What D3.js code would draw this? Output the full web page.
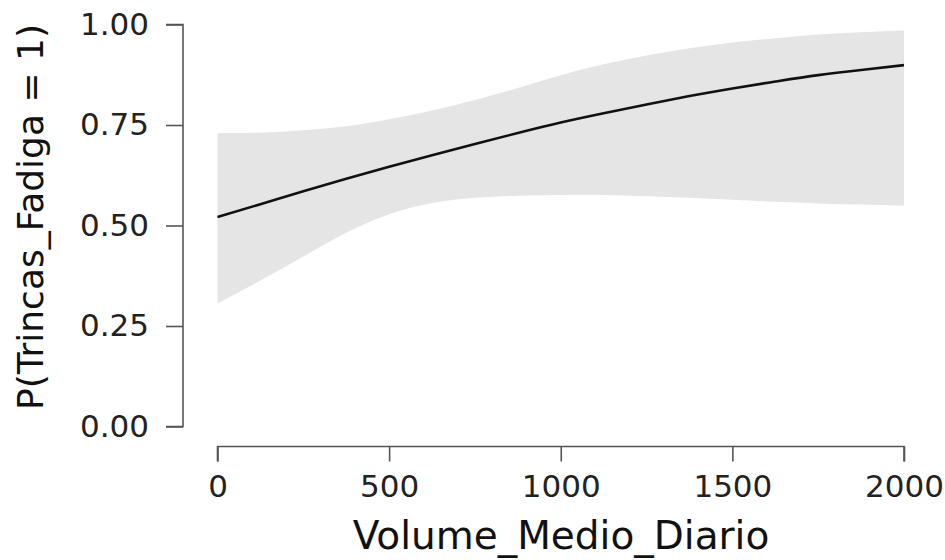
<!DOCTYPE html>
<html>
<head>
<meta charset="utf-8">
<script src="https://cdn.jsdelivr.net/npm/d3@7"></script>
<style>
  body { margin: 0; background: #fff; overflow: hidden; }
  svg { display: block; }
  .axis text { font-family: "DejaVu Sans", sans-serif; font-size: 31px; fill: #222; }
</style>
</head>
<body>
<div id="chart-container"></div>
<script>
// values
var volume = [0, 125, 250, 375, 500, 625, 750, 875, 1000, 1125, 1250, 1375, 1500, 1625, 1750, 1875, 2000];
var prob   = [0.521, 0.553, 0.585, 0.616, 0.646, 0.675, 0.703, 0.730, 0.756, 0.779, 0.801, 0.822, 0.841, 0.858, 0.874, 0.887, 0.899];
var upper  = [0.730, 0.731, 0.737, 0.747, 0.764, 0.786, 0.812, 0.842, 0.874, 0.901, 0.923, 0.941, 0.955, 0.966, 0.975, 0.981, 0.985];
var lower  = [0.306, 0.363, 0.423, 0.482, 0.528, 0.556, 0.569, 0.574, 0.576, 0.576, 0.573, 0.569, 0.564, 0.559, 0.555, 0.552, 0.549];
var xTicks = [0, 500, 1000, 1500, 2000];
var yTicks = [0, 0.25, 0.5, 0.75, 1];

var svg = d3.select("#chart-container").append("svg").attr("width", 945).attr("height", 560);

var x = d3.scaleLinear().domain([0, 2000]).range([217.5, 904]);
var y = d3.scaleLinear().domain([0, 1]).range([426.5, 24.5]);

var rows = volume.map(function (v, i) { return {v: v, p: prob[i], hi: upper[i], lo: lower[i]}; });

// confidence band
var band = d3.area()
  .x(function (d) { return x(d.v); })
  .y0(function (d) { return y(d.lo); })
  .y1(function (d) { return y(d.hi); })
  .curve(d3.curveNatural);
svg.append("path").datum(rows).attr("d", band).attr("fill", "#e5e5e5");

// fitted line
var line = d3.line()
  .x(function (d) { return x(d.v); })
  .y(function (d) { return y(d.p); })
  .curve(d3.curveNatural);
svg.append("path").datum(rows).attr("d", line)
  .attr("fill", "none").attr("stroke", "#111").attr("stroke-width", 2.6);

// y axis (offset to the left)
var yAxis = d3.axisLeft(y).tickValues(yTicks).tickSize(17).tickPadding(17).tickFormat(d3.format(".2f"));
var gy = svg.append("g").attr("class", "axis").attr("transform", "translate(183,0)").call(yAxis);
gy.select(".domain").attr("d", "M-17," + y(1) + "H0V" + y(0) + "H-17");

// x axis (offset below)
var xAxis = d3.axisBottom(x).tickValues(xTicks).tickSize(15).tickPadding(13).tickFormat(d3.format("d"));
var gx = svg.append("g").attr("class", "axis").attr("transform", "translate(0,446.5)").call(xAxis);
gx.select(".domain").attr("d", "M" + x(0) + ",15V0H" + x(2000) + "V15");

svg.selectAll(".axis .domain, .axis .tick line").attr("stroke", "#555").attr("stroke-width", 1.6);
svg.selectAll(".axis .tick text").attr("fill", "#222");

// axis titles
svg.append("text")
  .attr("x", 561).attr("y", 549)
  .attr("text-anchor", "middle")
  .style("font-family", "DejaVu Sans, sans-serif").style("font-size", "39px").attr("fill", "#111")
  .text("Volume_Medio_Diario");

svg.append("text")
  .attr("transform", "translate(43,217) rotate(-90)")
  .attr("text-anchor", "middle")
  .style("font-family", "DejaVu Sans, sans-serif").style("font-size", "36px").attr("fill", "#111")
  .text("P(Trincas_Fadiga = 1)");
</script>
</body>
</html>
